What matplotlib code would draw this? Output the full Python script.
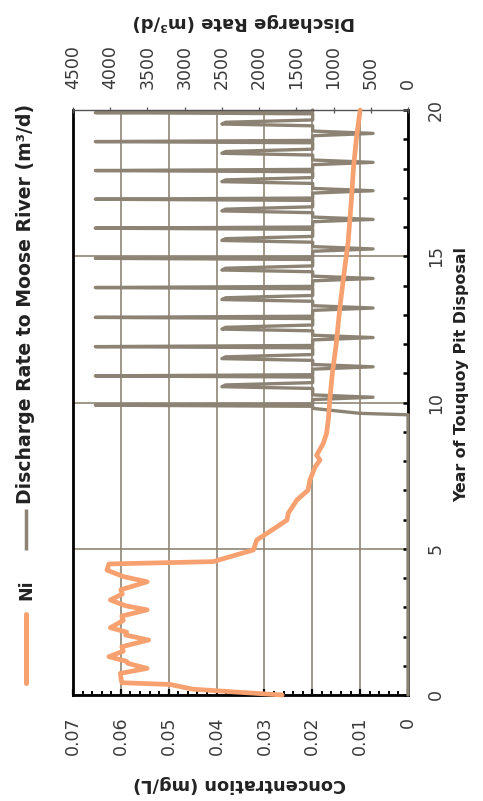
import matplotlib
matplotlib.use('Agg')
import matplotlib.pyplot as plt
from matplotlib.lines import Line2D
from matplotlib.ticker import MultipleLocator, FixedLocator

# ---------------- data ----------------
ni_year = [0.00, 0.08, 0.20, 0.36, 0.42, 0.60, 0.74, 0.91, 1.08, 1.15, 1.31, 1.50, 1.65, 1.88,
           2.05, 2.15, 2.30, 2.55, 2.70, 2.91, 3.05, 3.25, 3.45, 3.60, 3.87, 4.05,
           4.27, 4.48, 4.56, 4.96, 5.30, 5.75, 5.98, 6.22, 6.67, 7.00, 7.35, 7.80,
           8.03, 8.20, 8.60, 8.95, 9.50, 10.00, 11.00, 12.00, 13.30, 14.50, 15.50,
           17.00, 18.00, 19.00, 20.00]
ni_conc = [0.0263, 0.0340, 0.0450, 0.0497, 0.0598, 0.0600, 0.0601, 0.0545, 0.0585, 0.0588,
           0.0625, 0.0595, 0.0598, 0.0542, 0.0590, 0.0588, 0.0622, 0.0595, 0.0598, 0.0545,
           0.0590, 0.0622, 0.0597, 0.0600, 0.0545, 0.0595, 0.0629, 0.0625, 0.0407, 0.0323,
           0.0316, 0.0274, 0.0253, 0.0250, 0.0232, 0.0209, 0.0205, 0.0194, 0.0184, 0.0191,
           0.0177, 0.0170, 0.0166, 0.0164, 0.0158, 0.0150, 0.0142, 0.0133, 0.0125, 0.0118,
           0.0114, 0.0108, 0.0100]

dis_year = [0.00, 9.58, 9.63, 9.80, 9.87, 9.91, 9.95,
            10.10, 10.18, 10.26, 10.48, 10.54, 10.60, 10.68, 10.87, 10.91, 10.95,
            11.14, 11.22, 11.30, 11.44, 11.50, 11.56, 11.64, 11.87, 11.91, 11.95,
            12.14, 12.22, 12.30, 12.45, 12.51, 12.57, 12.65, 12.87, 12.91, 12.95,
            13.15, 13.23, 13.31, 13.46, 13.52, 13.58, 13.66, 13.89, 13.93, 13.97,
            14.16, 14.24, 14.32, 14.47, 14.53, 14.59, 14.67, 14.89, 14.93, 14.97,
            15.17, 15.25, 15.33, 15.48, 15.54, 15.60, 15.68, 15.92, 15.96, 16.00,
            16.18, 16.26, 16.34, 16.49, 16.55, 16.61, 16.69, 16.91, 16.95, 16.99,
            17.16, 17.24, 17.32, 17.49, 17.55, 17.61, 17.69, 17.89, 17.93, 17.97,
            18.13, 18.21, 18.29, 18.46, 18.52, 18.58, 18.66, 18.88, 18.92, 18.96,
            19.12, 19.20, 19.28, 19.46, 19.52, 19.58, 19.66, 19.87, 19.91, 19.95,
            20.00]
dis_rate = [0, 0, 650, 1280, 1280, 4200, 1280,
            1280, 470, 1280, 1280, 2500, 2450, 1280, 1280, 4200, 1280,
            1280, 470, 1280, 1280, 2500, 2450, 1280, 1280, 4200, 1280,
            1280, 470, 1280, 1280, 2500, 2450, 1280, 1280, 4200, 1280,
            1280, 470, 1280, 1280, 2500, 2450, 1280, 1280, 4200, 1280,
            1280, 470, 1280, 1280, 2500, 2450, 1280, 1280, 4200, 1280,
            1280, 470, 1280, 1280, 2500, 2450, 1280, 1280, 4200, 1280,
            1280, 470, 1280, 1280, 2500, 2450, 1280, 1280, 4200, 1280,
            1280, 470, 1280, 1280, 2500, 2450, 1280, 1280, 4200, 1280,
            1280, 470, 1280, 1280, 2500, 2450, 1280, 1280, 4200, 1280,
            1280, 470, 1280, 1280, 2500, 2450, 1280, 1280, 4200, 1280,
            1280]

conc_ticks = [0, 0.01, 0.02, 0.03, 0.04, 0.05, 0.06, 0.07]
conc_labels = ['0', '0.01', '0.02', '0.03', '0.04', '0.05', '0.06', '0.07']
year_ticks = [0, 5, 10, 15, 20]
rate_ticks = [0, 500, 1000, 1500, 2000, 2500, 3000, 3500, 4000, 4500]

# ---------------- style ----------------
ORANGE = '#F6A16F'
GRAY = '#8C8374'
GRID = '#8E8576'
TXT = '#3a3a3a'
LBL = '#222222'

W, H = 483, 801
plt.rcParams['font.family'] = ['DejaVu Sans']
fig = plt.figure(figsize=(W / 100, H / 100), dpi=100)


def fx(px):
    return px / W


def fy(py):
    return 1 - py / H


ax = fig.add_axes([fx(73), fy(695), fx(408) - fx(73), fy(110) - fy(695)])
ax.set_xlim(0.07, 0)
ax.set_ylim(0, 20)

ax.xaxis.set_major_locator(FixedLocator(conc_ticks))
ax.set_xticklabels(conc_labels)
ax.xaxis.set_minor_locator(MultipleLocator(0.002))
ax.yaxis.set_major_locator(FixedLocator(year_ticks))
ax.yaxis.set_minor_locator(MultipleLocator(1))
ax.yaxis.tick_right()

ax.tick_params(axis='x', which='major', direction='in', length=4, width=1.6,
               color='black', pad=15.6, labelrotation=90, labelsize=12.5, labelcolor=TXT)
ax.tick_params(axis='x', which='minor', direction='in', length=3, width=1.4, color='black')
ax.tick_params(axis='y', which='both', direction='in', length=3.5, width=1.8,
               color='black', pad=13.7, labelrotation=90, labelsize=12.5, labelcolor=TXT,
               left=False, right=True, labelleft=False, labelright=True)
for lab in ax.get_yticklabels():
    lab.set_va('center')

ax.grid(True, axis='x', which='major', color=GRID, lw=1.2)
ax.grid(True, axis='y', which='major', color=GRID, lw=1.2)
ax.set_axisbelow(True)
for s in ['left', 'right', 'bottom']:
    ax.spines[s].set_color('black')
    ax.spines[s].set_linewidth(2.0)
ax.spines['top'].set_visible(False)

ax2 = ax.twiny()
ax2.set_xlim(4500, 0)
ax2.xaxis.set_major_locator(FixedLocator(rate_ticks))
ax2.tick_params(axis='x', which='major', direction='inout', length=5, width=0.9,
                color='#555555', pad=12.6, labelrotation=90, labelsize=12.5, labelcolor=TXT)
for s in ['left', 'right', 'bottom']:
    ax2.spines[s].set_visible(False)
ax2.spines['top'].set_color('#555555')
ax2.spines['top'].set_linewidth(1.0)

ax2.plot(dis_rate, dis_year, color=GRAY, lw=2.4, solid_joinstyle='round',
         solid_capstyle='round', clip_on=False, zorder=2)
ax2.plot(ni_conc, ni_year, color=ORANGE, lw=3.4, transform=ax.transData,
         solid_joinstyle='round', solid_capstyle='round', clip_on=False, zorder=3)

# axis titles (rotated chart)
fig.text(fx(240), fy(784), 'Concentration (mg/L)', rotation=180, ha='center', va='center',
         fontsize=12.8, fontweight='bold', color=LBL)
fig.text(fx(244), fy(22), 'Discharge Rate (m\u00b3/d)', rotation=180, ha='center', va='center',
         fontsize=13, fontweight='bold', color=LBL)
fig.text(fx(462), fy(375), 'Year of Touquoy Pit Disposal', rotation=90, ha='center',
         va='center', fontsize=11.4, fontweight='bold', color=LBL)

# legend
fig.add_artist(Line2D([fx(26), fx(26)], [fy(614), fy(683)], transform=fig.transFigure,
                      color=ORANGE, lw=3.6, solid_capstyle='round'))
fig.text(fx(26), fy(590), 'Ni', rotation=90, ha='center', va='center',
         fontsize=12.5, fontweight='bold', color=LBL)
fig.add_artist(Line2D([fx(26), fx(26)], [fy(509), fy(550)], transform=fig.transFigure,
                      color=GRAY, lw=2.5, solid_capstyle='butt'))
fig.text(fx(26), fy(504), 'Discharge Rate to Moose River (m\u00b3/d)', rotation=90,
         ha='center', va='bottom', fontsize=13.6, fontweight='bold', color=LBL)

fig.savefig('out.png', dpi=100)
